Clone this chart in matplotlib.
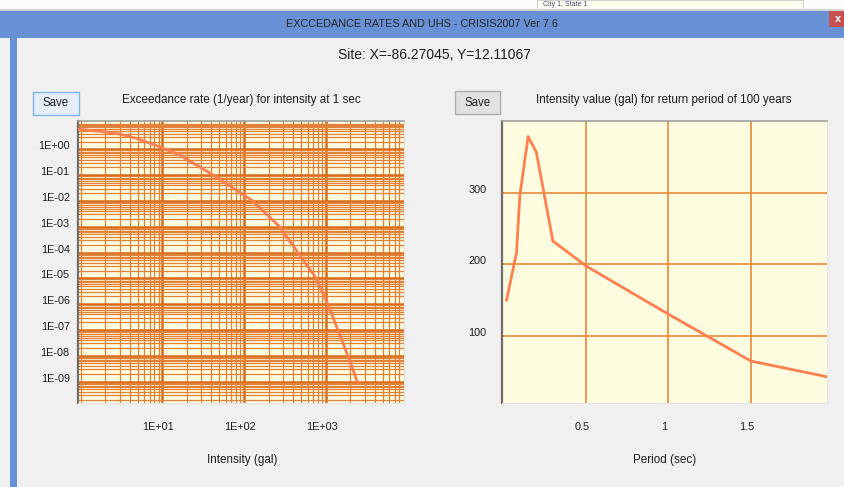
import numpy as np
import matplotlib
matplotlib.use("Agg")
import matplotlib.pyplot as plt
from matplotlib.patches import Rectangle
from matplotlib.ticker import FixedLocator, FixedFormatter, LogLocator, NullFormatter
from matplotlib.transforms import ScaledTranslation

# hazard curve at 1 sec: intensity (gal) vs exceedance rate (1/year)
intensity = [0.97, 1.9, 3.0, 4.8, 9.3, 16.3, 36, 42, 128, 273, 457, 767, 1064, 1410, 1870, 2480]
rate = [5.96, 4.8, 3.9, 2.67, 1.26, 0.6, 0.135, 0.1, 1e-2, 1e-3, 1e-4, 1e-5, 1e-6, 1e-7, 1e-8, 8.5e-10]

# uniform hazard spectrum, 100 year return period
period = [0.02, 0.08, 0.10, 0.15, 0.20, 0.30, 0.50, 1.00, 1.50, 2.00]
sa = [150, 217, 297, 380, 358, 233, 198, 130, 64, 40]

rate_ticks = [1e0, 1e-1, 1e-2, 1e-3, 1e-4, 1e-5, 1e-6, 1e-7, 1e-8, 1e-9]
rate_labels = ["1E+00", "1E-01", "1E-02", "1E-03", "1E-04", "1E-05", "1E-06", "1E-07", "1E-08", "1E-09"]
int_ticks = [10, 100, 1000]
int_labels = ["1E+01", "1E+02", "1E+03"]
period_ticks = [0.5, 1.0, 1.5]
period_labels = ["0.5", "1", "1.5"]
sa_ticks = [100, 200, 300]
sa_labels = ["100", "200", "300"]

W, H = 844, 487
FONT = ["Liberation Sans Narrow", "Liberation Sans", "DejaVu Sans"]
TXT = "#1e1e1e"
BLUE = "#6890d4"
LINE = "#ff7f50"


def fx(x):
    return x / W


def fy(y):
    return 1 - y / H


def box(x0, y0, x1, y1, **kw):
    fig.add_artist(Rectangle((fx(x0), fy(y1)), (x1 - x0) / W, (y1 - y0) / H,
                             transform=fig.transFigure, **kw))


def label(x, y, s, size=8, **kw):
    fig.text(fx(x), fy(y), s, ha=kw.pop("ha", "center"), va="center",
             fontsize=size, family=FONT, color=kw.pop("color", TXT), **kw)


fig = plt.figure(figsize=(W / 100, H / 100), dpi=100, facecolor="#f0f0f0")

# window chrome
box(0, 0, W, 9, facecolor="#fcfcfc", edgecolor="none")
box(0, 9, W, 11, facecolor="#d4d4d4", edgecolor="none")
box(537, 0, 803, 9, facecolor="#fffff0", edgecolor="#c8c8c8", lw=0.6)
label(543, 4.5, "City 1, State 1", size=5, ha="left", color="#4a4a8a")
box(0, 11, W, 38, facecolor=BLUE, edgecolor="none")
box(10, 38, 17, H, facecolor=BLUE, edgecolor="none")
box(829, 11, W, 27, facecolor="#c75050", edgecolor="none")
label(838, 19, "x", size=8, color="white", weight="bold")
label(422, 24, "EXCCEDANCE RATES AND UHS - CRISIS2007 Ver 7.6", size=7.8, color="#262626")
label(434, 55, "Site: X=-86.27045, Y=12.11067", size=10)

# buttons
box(33, 92, 79, 115, facecolor="#e5eefa", edgecolor="#7fb3e8", lw=1)
label(56, 103.5, "Save", size=8.3)
box(455, 91, 500, 114, facecolor="#e1e1e1", edgecolor="#adadad", lw=1)
label(477.5, 102.5, "Save", size=8.3)

label(241, 100, "Exceedance rate (1/year) for intensity at 1 sec", size=8.4)
label(664, 100, "Intensity value (gal) for return period of 100 years", size=8.4)
label(242, 460, "Intensity (gal)", size=8.4)
label(665, 460, "Period (sec)", size=8.4)

# left: exceedance rate curve
ax1 = fig.add_axes([fx(78), fy(403), (404 - 78) / W, (403 - 121) / H])
ax1.set_facecolor("#fffde0")
ax1.set_xscale("log")
ax1.set_yscale("log")
ax1.plot(intensity, rate, color=LINE, lw=2, zorder=3)
ax1.set_xlim(0.93, 9100)
ax1.set_ylim(1.47e-10, 12.5)
ax1.xaxis.set_major_locator(FixedLocator(int_ticks))
ax1.xaxis.set_major_formatter(FixedFormatter(int_labels))
ax1.yaxis.set_major_locator(FixedLocator(rate_ticks))
ax1.yaxis.set_major_formatter(FixedFormatter(rate_labels))
for a in (ax1.xaxis, ax1.yaxis):
    a.set_minor_locator(LogLocator(base=10, subs=np.arange(1, 10), numticks=100))
    a.set_minor_formatter(NullFormatter())
ax1.grid(which="minor", color="#e2823a", lw=0.9)
ax1.grid(which="major", color="#d86a1c", lw=1.8)
ax1.set_axisbelow(True)
ax1.tick_params(which="both", length=0, labelsize=7.8, labelcolor=TXT)
ax1.tick_params(axis="x", pad=14)
ax1.tick_params(axis="y", pad=6)

# right: uniform hazard spectrum
ax2 = fig.add_axes([fx(502), fy(403), (827 - 502) / W, (403 - 121) / H])
ax2.set_facecolor("#fffde0")
ax2.plot(period, sa, color=LINE, lw=2, zorder=3)
ax2.set_xlim(-0.008, 1.96)
ax2.set_ylim(5, 402)
ax2.xaxis.set_major_locator(FixedLocator(period_ticks))
ax2.xaxis.set_major_formatter(FixedFormatter(period_labels))
ax2.yaxis.set_major_locator(FixedLocator(sa_ticks))
ax2.yaxis.set_major_formatter(FixedFormatter(sa_labels))
ax2.grid(color="#e8893c", lw=1.2)
ax2.set_axisbelow(True)
ax2.tick_params(length=0, labelsize=7.8, labelcolor=TXT)
ax2.tick_params(axis="x", pad=14)
ax2.tick_params(axis="y", pad=11)

for ax in (ax1, ax2):
    ax.spines["left"].set_color("#6d6d6d")
    ax.spines["left"].set_linewidth(1.6)
    ax.spines["top"].set_color("#a0a0a0")
    ax.spines["top"].set_linewidth(1.2)
    ax.spines["right"].set_color("#e4e4e4")
    ax.spines["bottom"].set_color("#e4e4e4")
    for t in ax.get_xticklabels():
        t.set_family(FONT)
        t.set_transform(t.get_transform() + ScaledTranslation(-4 / 100, 0, fig.dpi_scale_trans))
    for t in ax.get_yticklabels():
        t.set_family(FONT)
        t.set_transform(t.get_transform() + ScaledTranslation(0, 4 / 100, fig.dpi_scale_trans))

fig.savefig("out.png", dpi=100, facecolor=fig.get_facecolor())
